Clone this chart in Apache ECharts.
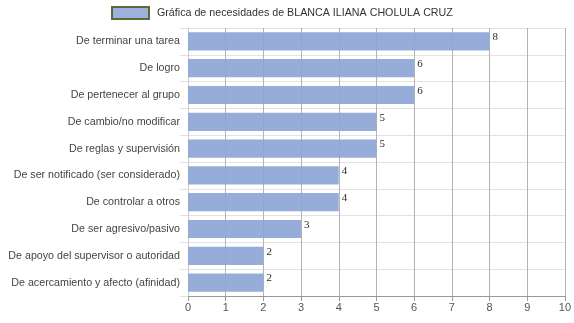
<!DOCTYPE html>
<html>
<head>
<meta charset="utf-8">
<script src="https://cdn.jsdelivr.net/npm/echarts@6/dist/echarts.min.js"></script>
<style>
  html, body { margin: 0; padding: 0; background: #fff; }
  #chart { width: 574px; height: 323px; }
</style>
</head>
<body>
<div id="chart"></div>
<script>
// Needs, listed top to bottom as shown
const categories = [
  'De terminar una tarea',
  'De logro',
  'De pertenecer al grupo',
  'De cambio/no modificar',
  'De reglas y supervisión',
  'De ser notificado (ser considerado)',
  'De controlar a otros',
  'De ser agresivo/pasivo',
  'De apoyo del supervisor o autoridad',
  'De acercamiento y afecto (afinidad)'
];
const values = [8, 6, 6, 5, 5, 4, 4, 3, 2, 2];
const xTicks = [0, 1, 2, 3, 4, 5, 6, 7, 8, 9, 10];
const seriesName = 'Gráfica de necesidades de BLANCA ILIANA CHOLULA CRUZ';

const chart = echarts.init(document.getElementById('chart'));
chart.setOption({
  animation: false,
  legend: {
    top: 6,
    left: 111,
    padding: 0,
    itemWidth: 37,
    itemHeight: 12,
    textStyle: { fontFamily: 'Liberation Sans, Arial', fontSize: 10.7, color: '#333', padding: [0, 0, 0, 3] },
    data: [{
      name: seriesName,
      icon: 'rect',
      itemStyle: { color: '#94aad8', borderColor: '#4f6228', borderWidth: 2 }
    }]
  },
  grid: { left: 188, right: 8, top: 28, bottom: 27 },
  xAxis: {
    type: 'value',
    min: xTicks[0],
    max: xTicks[xTicks.length - 1],
    interval: 1,
    axisLine: { show: true, lineStyle: { color: '#999' } },
    axisTick: { show: true, length: 5, lineStyle: { color: '#999' } },
    axisLabel: { fontFamily: 'Liberation Sans, Arial', fontSize: 11, color: '#555', margin: 6 },
    splitLine: { show: true, lineStyle: { color: '#b4b4b4' } }
  },
  yAxis: {
    type: 'category',
    inverse: true,
    data: categories,
    axisLine: { show: true, lineStyle: { color: '#ccc' } },
    axisTick: { show: true, length: 8, lineStyle: { color: '#e2e2e2' } },
    axisLabel: { fontFamily: 'Liberation Sans, Arial', fontSize: 10.7, color: '#444', margin: 8 },
    splitLine: { show: true, lineStyle: { color: '#e2e2e2' } }
  },
  series: [{
    name: seriesName,
    type: 'bar',
    data: values,
    barCategoryGap: '32%',
    itemStyle: { color: '#8ea6d6', opacity: 0.92 },
    z: 1,
    label: {
      show: true,
      position: 'right',
      distance: 3,
      offset: [0, -4],
      fontFamily: 'Liberation Serif, Times New Roman',
      fontSize: 11,
      color: '#111'
    }
  }]
});
</script>
</body>
</html>
